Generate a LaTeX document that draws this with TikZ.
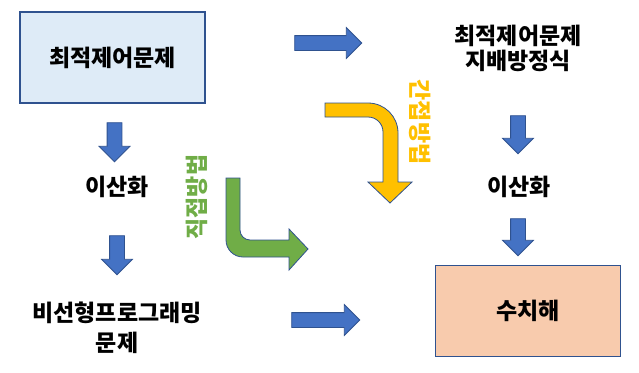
\documentclass[tikz,border=0pt]{standalone}
\usepackage{fontspec}
\newfontfamily\krfont{Noto Sans CJK KR}
\usepackage{tikz}
\usetikzlibrary{shapes.arrows}
\definecolor{diagBlue}{HTML}{4472C4}
\definecolor{diagBorder}{HTML}{2F528F}
\definecolor{diagLightBlue}{HTML}{DEEBF7}
\definecolor{diagPeach}{HTML}{F8CBAD}
\definecolor{diagGreen}{HTML}{70AD47}
\definecolor{diagYellow}{HTML}{FFC000}
\tikzset{
    main box/.style={rectangle, draw=diagBorder, line width=1.5pt, minimum width=185pt, minimum height=91pt, align=center, font=\krfont\bfseries\fontsize{23}{25}\selectfont},
    label text/.style={align=center, font=\krfont\bfseries\fontsize{23}{25}\selectfont, inner sep=0pt},
    side label/.style={font=\krfont\bfseries\fontsize{23}{25}\selectfont, inner sep=0pt},
    block arrow/.style={single arrow, draw=diagBorder, fill=diagBlue, line width=0.8pt, inner sep=7pt, single arrow head extend=8pt},
    down arrow/.style={block arrow, shape border rotate=270},
    bent arrow/.style={draw=diagBorder, line width=0.8pt},
}

\begin{document}
\begin{tikzpicture}[x=1pt, y=-1pt]
        \useasboundingbox (0,0) rectangle (639,372);

        % Boxes
        \node[main box, fill=diagLightBlue] (ocp) at (112.5,57.5) {최적제어문제};
        \node[main box, fill=diagPeach] (numsol) at (528,311) {수치해};

        % Texts
        \node[label text] (discL) at (117,187) {이산화};
        \node[label text] (nlp) at (117,328) {비선형프로그래밍\\[5pt]문제};
        \node[label text] (ocpeq) at (518,48) {최적제어문제\\지배방정식};
        \node[label text] (discR) at (519,187) {이산화};

        % Block arrows
        \node[down arrow, minimum height=39pt] (arrL1) at (114.5,138.5) {};
        \node[down arrow, minimum height=39pt] (arrL2) at (117,251.5) {};
        \node[down arrow, minimum height=38pt] (arrR1) at (518,131) {};
        \node[down arrow, minimum height=37pt] (arrR2) at (518,233.5) {};
        \node[block arrow, minimum height=67pt] (arrTop) at (324.5,43) {};
        \node[block arrow, minimum height=68pt] (arrBot) at (322,320) {};

        % Bent arrows
        \draw[bent arrow, fill=diagGreen] (226,178) -- (226,240)
            .. controls (226,249.4) and (233.6,257) .. (243,257)
            -- (289,257) -- (289,270) -- (308,249) -- (289,229) -- (289,240) -- (250,240)
            .. controls (244.5,240) and (240,235.5) .. (240,230) -- (240,178) -- cycle;
        \draw[bent arrow, fill=diagYellow] (325,103) -- (368,103)
            .. controls (384.6,103) and (398,116.4) .. (398,133)
            -- (398,182) -- (412,182) -- (390,203) -- (368,182) -- (383,182) -- (383,132)
            .. controls (383,123.7) and (376.3,117) .. (368,117) -- (325,117) -- cycle;

        % Side labels
        \node[side label, text=diagGreen, rotate=90] (direct) at (197,197) {직접방법};
        \node[side label, text=diagYellow, rotate=-90] (indirect) at (420,122) {간접방법};
    \end{tikzpicture}
\end{document}
